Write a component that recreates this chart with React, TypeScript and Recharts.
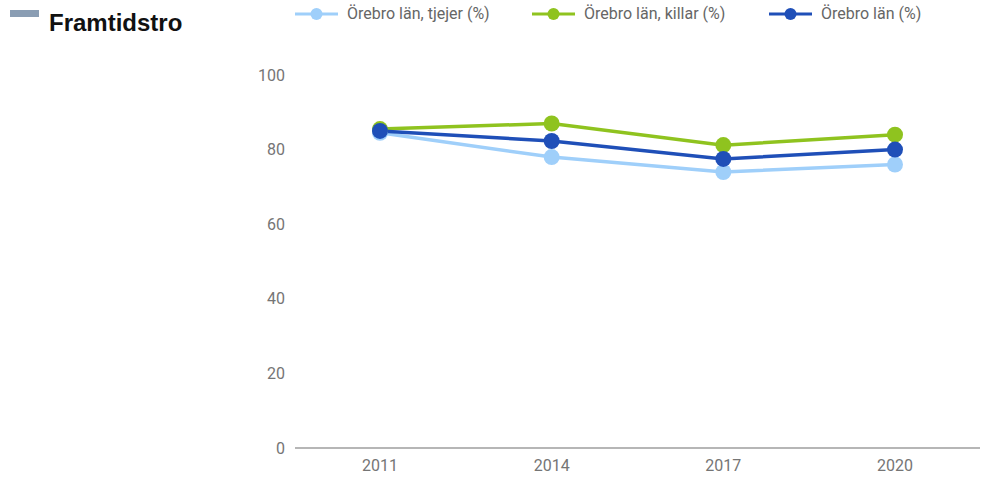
import React from "react";
import { LineChart, Line, XAxis, YAxis } from "recharts";

const years = ["2011", "2014", "2017", "2020"];
const tjejer = [84.5, 78, 74, 76];
const killar = [85.5, 87, 81.2, 84];
const total = [85, 82.3, 77.5, 80];
const yTicks = [0, 20, 40, 60, 80, 100];

const series = [
  { key: "tjejer", name: "Örebro län, tjejer (%)", color: "#9fcffa" },
  { key: "killar", name: "Örebro län, killar (%)", color: "#8fc31f" },
  { key: "total", name: "Örebro län (%)", color: "#1f4fb8" },
];

const data = years.map((year, i) => ({
  year,
  tjejer: tjejer[i],
  killar: killar[i],
  total: total[i],
}));

const legendOffsets = [295, 532, 769];

function TopLegend() {
  return (
    <>
      {series.map((s, i) => (
        <div
          key={s.key}
          style={{
            position: "absolute",
            left: legendOffsets[i],
            top: 4,
            display: "flex",
            alignItems: "center",
            fontFamily: "Roboto, sans-serif",
            fontSize: 16,
            lineHeight: "20px",
            color: "#666",
            whiteSpace: "nowrap",
          }}
        >
          <svg width={43} height={14} style={{ marginRight: 9 }}>
            <line x1={0} y1={7} x2={43} y2={7} stroke={s.color} strokeWidth={3} />
            <circle cx={21.5} cy={7} r={6} fill={s.color} />
          </svg>
          {s.name}
        </div>
      ))}
    </>
  );
}

export default function App() {
  return (
    <div style={{ position: "absolute", left: 0, top: 0, width: 981, height: 479, background: "#fff" }}>
      <div style={{ position: "absolute", left: 10, top: 10, width: 29, height: 7, background: "#8a9db3" }} />
      <div
        style={{
          position: "absolute",
          left: 49,
          top: 9,
          fontFamily: "Arial, 'Liberation Sans', sans-serif",
          fontWeight: "bold",
          fontSize: 24,
          lineHeight: "28px",
          color: "#111",
        }}
      >
        Framtidstro
      </div>
      <TopLegend />
      <LineChart width={981} height={479} data={data} margin={{ top: 75, right: 1, bottom: 1, left: 0 }}>
        <XAxis
          dataKey="year"
          padding={{ left: 85, right: 85 }}
          tickLine={false}
          axisLine={{ stroke: "#9e9e9e", strokeWidth: 1.5 }}
          tick={{ fontSize: 16, fill: "#757575", fontFamily: "Roboto, sans-serif" }}
          height={30}
          tickMargin={6}
        />
        <YAxis
          domain={[0, 100]}
          ticks={yTicks}
          width={295}
          tickLine={false}
          axisLine={false}
          tick={{ fontSize: 16, fill: "#757575", fontFamily: "Roboto, sans-serif" }}
          tickMargin={4}
        />
        {series.map((s) => (
          <Line
            key={s.key}
            dataKey={s.key}
            name={s.name}
            stroke={s.color}
            strokeWidth={3.5}
            dot={{ r: 8, fill: s.color, stroke: s.color, strokeWidth: 0 }}
            activeDot={false}
            isAnimationActive={false}
          />
        ))}
      </LineChart>
    </div>
  );
}
